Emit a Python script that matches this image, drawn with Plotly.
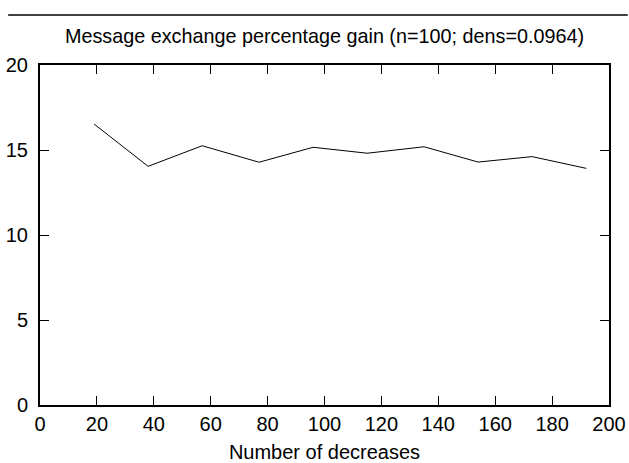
import plotly.graph_objects as go

decreases = [19, 38, 57, 77, 96, 115, 135, 154, 173, 192]
gain = [16.53, 14.04, 15.25, 14.28, 15.16, 14.81, 15.19, 14.29, 14.61, 13.92]

x_ticks = list(range(0, 201, 20))
y_ticks = [0, 5, 10, 15, 20]

title_text = "Message exchange percentage gain (n=100; dens=0.0964)"
x_title = "Number of decreases"

font_family = "Liberation Sans, Arial, sans-serif"
fs = 20

fig = go.Figure()
fig.add_trace(go.Scatter(x=decreases, y=gain, mode="lines",
                         line=dict(color="black", width=1), showlegend=False))

axis_common = dict(showgrid=False, zeroline=False, showline=True, linecolor="black",
                   linewidth=2, mirror="ticks", ticks="inside", ticklen=9,
                   tickwidth=1.2, tickcolor="black", automargin=False,
                   tickfont=dict(family=font_family, size=fs, color="black"))

fig.update_layout(
    width=629, height=463,
    margin=dict(l=40, r=20, t=65, b=58),
    paper_bgcolor="white", plot_bgcolor="white",
    font=dict(family=font_family, size=fs, color="black"),
    title=dict(text=title_text, xref="paper", x=0.5, xanchor="center", y=1 - 36 / 463,
               yanchor="middle", font=dict(family=font_family, size=19.8, color="black")),
    xaxis=dict(range=[0, 200], tickvals=x_ticks,
               title=dict(text=x_title, standoff=13,
                          font=dict(family=font_family, size=fs, color="black")),
               **axis_common),
    yaxis=dict(range=[0, 20], tickvals=y_ticks, ticklabelstandoff=6, **axis_common),
)

fig.add_shape(type="line", xref="paper", yref="paper",
              x0=-0.056, x1=1.033, y0=1.147, y1=1.147,
              line=dict(color="#404040", width=2))

fig.write_html("out.html", config={"displayModeBar": False},
               post_script="document.body.style.margin='0';")
